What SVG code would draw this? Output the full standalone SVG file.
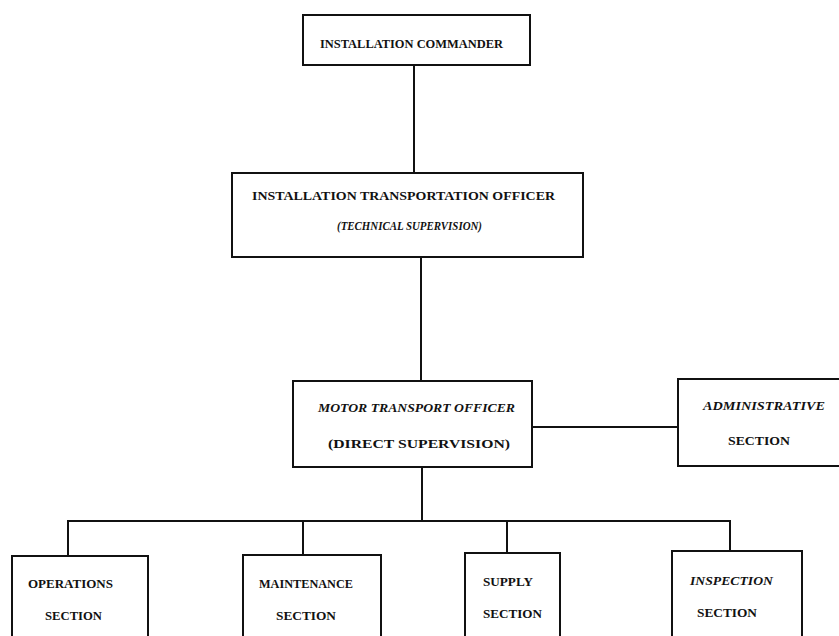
<svg xmlns="http://www.w3.org/2000/svg" width="839" height="636" viewBox="0 0 839 636">
<style>
.box{fill:#fff;stroke:#111;stroke-width:2}
.ln{fill:none;stroke:#111;stroke-width:2}
text{font-family:"Liberation Serif","DejaVu Serif",serif;font-weight:bold;font-size:12.5px;fill:#111}
.it{font-style:italic}
</style>
<rect width="839" height="636" fill="#fff"/>
<g id="connectors">
<line class="ln" x1="414" y1="65" x2="414" y2="173"/>
<line class="ln" x1="421" y1="257" x2="421" y2="381"/>
<line class="ln" x1="532" y1="427" x2="678" y2="427"/>
<line class="ln" x1="422" y1="467" x2="422" y2="521"/>
<line class="ln" x1="67" y1="521" x2="731" y2="521"/>
<line class="ln" x1="68" y1="521" x2="68" y2="556"/>
<line class="ln" x1="303" y1="521" x2="303" y2="555"/>
<line class="ln" x1="507" y1="521" x2="507" y2="553"/>
<line class="ln" x1="730" y1="521" x2="730" y2="551"/>
</g>
<g id="commander">
<rect class="box" x="303" y="15" width="227" height="50"/>
<text x="320" y="47.5" textLength="183" lengthAdjust="spacingAndGlyphs">INSTALLATION COMMANDER</text>
</g>
<g id="ito">
<rect class="box" x="232" y="173" width="351" height="84"/>
<text x="252" y="199.5" textLength="303" lengthAdjust="spacingAndGlyphs">INSTALLATION TRANSPORTATION OFFICER</text>
<text class="it" x="337" y="229.5" textLength="145" lengthAdjust="spacingAndGlyphs">(TECHNICAL SUPERVISION)</text>
</g>
<g id="mto">
<rect class="box" x="293" y="381" width="239" height="86"/>
<text class="it" x="318" y="411.5" textLength="197" lengthAdjust="spacingAndGlyphs">MOTOR TRANSPORT OFFICER</text>
<text x="328" y="447.5" textLength="182" lengthAdjust="spacingAndGlyphs">(DIRECT SUPERVISION)</text>
</g>
<g id="admin">
<rect class="box" x="678" y="379" width="170" height="87"/>
<text class="it" x="703" y="409.5" textLength="122" lengthAdjust="spacingAndGlyphs">ADMINISTRATIVE</text>
<text x="728" y="444.5" textLength="62" lengthAdjust="spacingAndGlyphs">SECTION</text>
</g>
<g id="operations">
<rect class="box" x="12" y="556" width="136" height="90"/>
<text x="28" y="587.5" textLength="85" lengthAdjust="spacingAndGlyphs">OPERATIONS</text>
<text x="45" y="619.5" textLength="57" lengthAdjust="spacingAndGlyphs">SECTION</text>
</g>
<g id="maintenance">
<rect class="box" x="243" y="555" width="138" height="90"/>
<text x="259" y="587.5" textLength="94" lengthAdjust="spacingAndGlyphs">MAINTENANCE</text>
<text x="276" y="619.5" textLength="60" lengthAdjust="spacingAndGlyphs">SECTION</text>
</g>
<g id="supply">
<rect class="box" x="465" y="553" width="95" height="90"/>
<text x="483" y="585.5" textLength="50" lengthAdjust="spacingAndGlyphs">SUPPLY</text>
<text x="483" y="617.5" textLength="59" lengthAdjust="spacingAndGlyphs">SECTION</text>
</g>
<g id="inspection">
<rect class="box" x="672" y="551" width="130" height="90"/>
<text class="it" x="690" y="584.5" textLength="83" lengthAdjust="spacingAndGlyphs">INSPECTION</text>
<text x="697" y="616.5" textLength="60" lengthAdjust="spacingAndGlyphs">SECTION</text>
</g>
</svg>
